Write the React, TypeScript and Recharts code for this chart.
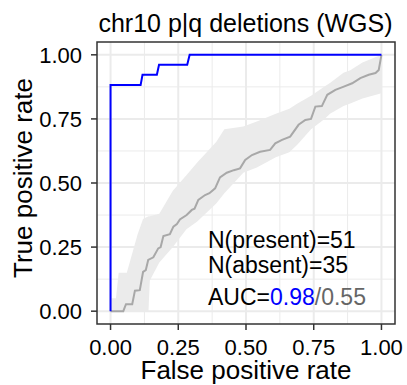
import React from "react";
import {
  ComposedChart,
  Line,
  Area,
  XAxis,
  YAxis,
  CartesianGrid,
  ReferenceArea,
} from "recharts";

// observed ROC
const fpr = [0, 0, 0.111, 0.118, 0.171, 0.179, 0.283, 0.292, 1];
const tpr = [0, 0.882, 0.882, 0.922, 0.922, 0.961, 0.961, 1, 1];

// null / random ROC
const nullFpr = [
  0, 0.047, 0.057, 0.08, 0.09, 0.108, 0.12, 0.13, 0.139, 0.158, 0.176, 0.185,
  0.195, 0.219, 0.232, 0.245, 0.256, 0.281, 0.3, 0.31, 0.324, 0.349, 0.365,
  0.386, 0.404, 0.429, 0.455, 0.478, 0.497, 0.522, 0.552, 0.589, 0.608, 0.633,
  0.663, 0.694, 0.719, 0.74, 0.756, 0.78, 0.8, 0.83, 0.861, 0.892, 0.922,
  0.953, 0.978, 0.99, 1,
];
const nullTpr = [
  0, 0, 0.027, 0.027, 0.08, 0.082, 0.153, 0.16, 0.2, 0.21, 0.245, 0.25, 0.293,
  0.3, 0.33, 0.34, 0.358, 0.375, 0.395, 0.4, 0.434, 0.453, 0.46, 0.479, 0.522,
  0.54, 0.55, 0.557, 0.59, 0.609, 0.622, 0.629, 0.655, 0.668, 0.681, 0.727,
  0.746, 0.75, 0.798, 0.8, 0.844, 0.863, 0.876, 0.889, 0.909, 0.922, 0.929,
  0.941, 1,
];

// null band
const bandFpr = [
  0, 0.02, 0.03, 0.06, 0.1, 0.12, 0.14, 0.145, 0.18, 0.23, 0.28, 0.32, 0.39,
  0.42, 0.49, 0.54, 0.61, 0.66, 0.69, 0.74, 0.79, 0.81, 0.86, 0.885, 0.93, 1,
];
const bandHi = [
  0.05, 0.05, 0.15, 0.15, 0.3, 0.36, 0.37, 0.37, 0.38, 0.47, 0.53, 0.58, 0.66,
  0.71, 0.72, 0.74, 0.77, 0.79, 0.81, 0.84, 0.876, 0.89, 0.93, 0.94, 0.97, 1,
];
const bandLo = [
  0, 0, 0, 0, 0, 0, 0, 0.12, 0.19, 0.25, 0.32, 0.35, 0.42, 0.46, 0.54, 0.56,
  0.6, 0.62, 0.65, 0.71, 0.75, 0.77, 0.8, 0.81, 0.83, 0.85,
];

const majorTicks = [0, 0.25, 0.5, 0.75, 1];
const minorTicks = [0.125, 0.375, 0.625, 0.875];

const title = "chr10 p|q deletions (WGS)";
const nPresent = 51;
const nAbsent = 35;
const auc = "0.98";
const aucNull = "0.55";

const rocData = fpr.map((x, i) => ({ x, y: tpr[i] }));
const nullData = nullFpr.map((x, i) => ({ x, y: nullTpr[i] }));
const bandData = bandFpr.map((x, i) => ({ x, range: [bandLo[i], bandHi[i]] }));

const FONT = "'Liberation Sans', Arial, sans-serif";
const domain: [number, number] = [-0.05, 1.05];
const fmt = (v: number) => v.toFixed(2);
const tickStyle = { fontSize: 22, fill: "#000", fontFamily: FONT };

const App = () => {
  return (
    <div style={{ position: "absolute", left: 0, top: 0 }}>
      <ComposedChart
        width={407}
        height={385}
        margin={{ top: 42, right: 12, bottom: 0, left: 0 }}
      >
        <CartesianGrid
          verticalValues={minorTicks}
          horizontalValues={minorTicks}
          stroke="#ebebeb"
          strokeWidth={1}
          fill="none"
        />
        <CartesianGrid
          verticalValues={majorTicks}
          horizontalValues={majorTicks}
          stroke="#ebebeb"
          strokeWidth={2}
          fill="none"
        />
        <XAxis
          type="number"
          dataKey="x"
          domain={domain}
          ticks={majorTicks}
          tickFormatter={fmt}
          height={61}
          axisLine={false}
          tickSize={6}
          tickMargin={9}
          tickLine={{ stroke: "#333", strokeWidth: 1.5 }}
          tick={tickStyle}
          interval={0}
        />
        <YAxis
          type="number"
          domain={domain}
          ticks={majorTicks}
          tickFormatter={fmt}
          width={97}
          axisLine={false}
          tickSize={6}
          tickMargin={9}
          tickLine={{ stroke: "#333", strokeWidth: 1.5 }}
          tick={tickStyle}
          interval={0}
        />
        <Area
          data={bandData}
          dataKey="range"
          type="linear"
          stroke="none"
          fill="#ebebeb"
          fillOpacity={1}
          isAnimationActive={false}
        />
        <Line
          data={nullData}
          dataKey="y"
          type="linear"
          stroke="#a8a8a8"
          strokeWidth={2}
          dot={false}
          activeDot={false}
          isAnimationActive={false}
        />
        <Line
          data={rocData}
          dataKey="y"
          type="linear"
          stroke="#0000ff"
          strokeWidth={2}
          dot={false}
          activeDot={false}
          isAnimationActive={false}
        />
        <ReferenceArea
          x1={-0.05}
          x2={1.05}
          y1={-0.05}
          y2={1.05}
          fill="none"
          stroke="#333"
          strokeWidth={1.5}
        />
        <text x={245.5} y={32} textAnchor="middle" fontSize={25} fontFamily={FONT} fill="#000">
          {title}
        </text>
        <text x={246} y={379} textAnchor="middle" fontSize={26} fontFamily={FONT} fill="#000">
          False positive rate
        </text>
        <text
          x={32}
          y={178}
          textAnchor="middle"
          fontSize={26}
          fontFamily={FONT}
          fill="#000"
          transform="rotate(-90 32 178)"
        >
          True positive rate
        </text>
        <text x={208} y={248} fontSize={23} fontFamily={FONT} fill="#000">
          {`N(present)=${nPresent}`}
        </text>
        <text x={208} y={273} fontSize={23} fontFamily={FONT} fill="#000">
          {`N(absent)=${nAbsent}`}
        </text>
        <text x={208} y={305} fontSize={23} fontFamily={FONT} fill="#000">
          <tspan>AUC=</tspan>
          <tspan fill="#0000ff">{auc}</tspan>
          <tspan fill="#666">{`/${aucNull}`}</tspan>
        </text>
      </ComposedChart>
    </div>
  );
};

export default App;
